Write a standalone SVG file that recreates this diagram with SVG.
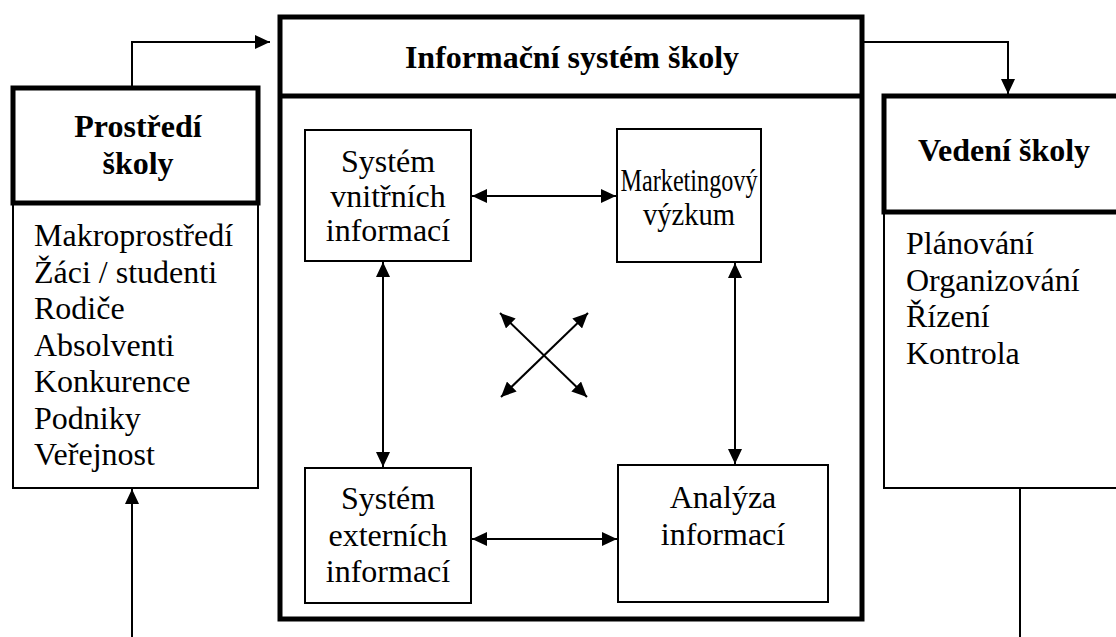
<svg xmlns="http://www.w3.org/2000/svg" width="1116" height="637" viewBox="0 0 1116 637">
<style>
.thick{fill:#fff;stroke:#000;stroke-width:5}
.thin{fill:#fff;stroke:#000;stroke-width:2}
.t{font-family:"Liberation Serif","Times New Roman",serif;font-size:32px;fill:#000}
.b{font-weight:bold}
.c{text-anchor:middle}
.ln{stroke:#000;stroke-width:2;fill:none}
</style>
<defs>
<marker id="ah" markerUnits="userSpaceOnUse" markerWidth="16" markerHeight="14" refX="15" refY="7" orient="auto-start-reverse" viewBox="0 0 16 14">
<path d="M0,0 L15,7 L0,14 z" fill="#000"/>
</marker>
</defs>
<rect width="1116" height="637" fill="#fff"/>

<g id="prostredi">
<rect class="thin" x="13" y="203" width="245" height="285"/>
<rect class="thick" x="13" y="88" width="245" height="115"/>
<text class="t b c" x="138" y="137">Prostředí</text>
<text class="t b c" x="138" y="174">školy</text>
<text class="t" x="34" y="246">Makroprostředí</text>
<text class="t" x="34" y="282.5">Žáci / studenti</text>
<text class="t" x="34" y="319">Rodiče</text>
<text class="t" x="34" y="355.5">Absolventi</text>
<text class="t" x="34" y="392">Konkurence</text>
<text class="t" x="34" y="428.5">Podniky</text>
<text class="t" x="34" y="465">Veřejnost</text>
</g>

<g id="is">
<rect class="thick" x="280" y="17" width="582" height="602"/>
<line x1="280" y1="96" x2="862" y2="96" stroke="#000" stroke-width="5"/>
<text class="t b c" x="572" y="68">Informační systém školy</text>
</g>

<g id="vnitrni">
<rect class="thin" x="305" y="130" width="166" height="131"/>
<text class="t c" x="388" y="172">Systém</text>
<text class="t c" x="388" y="207">vnitřních</text>
<text class="t c" x="388" y="241">informací</text>
</g>

<g id="marketing">
<rect class="thin" x="617" y="129" width="144" height="133"/>
<text class="t c" x="689" y="191" textLength="137" lengthAdjust="spacingAndGlyphs">Marketingový</text>
<text class="t c" x="689" y="225" textLength="92" lengthAdjust="spacingAndGlyphs">výzkum</text>
</g>

<g id="externi">
<rect class="thin" x="305" y="468" width="166" height="135"/>
<text class="t c" x="388" y="509">Systém</text>
<text class="t c" x="388" y="546">externích</text>
<text class="t c" x="388" y="582">informací</text>
</g>

<g id="analyza">
<rect class="thin" x="618" y="465" width="210" height="137"/>
<text class="t c" x="723" y="508">Analýza</text>
<text class="t c" x="723" y="545">informací</text>
</g>

<g id="vedeni">
<rect class="thin" x="884" y="212" width="240" height="276"/>
<rect class="thick" x="884" y="96" width="240" height="116"/>
<text class="t b c" x="1004" y="161">Vedení školy</text>
<text class="t" x="906" y="254">Plánování</text>
<text class="t" x="906" y="290.5">Organizování</text>
<text class="t" x="906" y="327">Řízení</text>
<text class="t" x="906" y="363.5">Kontrola</text>
</g>

<g id="connectors">
<polyline class="ln" points="132,88 132,42 270,42" marker-end="url(#ah)"/>
<polyline class="ln" points="862,42 1008,42 1008,94" marker-end="url(#ah)"/>
<line class="ln" x1="132" y1="637" x2="132" y2="489" marker-end="url(#ah)"/>
<line class="ln" x1="1020" y1="488" x2="1020" y2="637"/>
<line class="ln" x1="472" y1="196" x2="616" y2="196" marker-start="url(#ah)" marker-end="url(#ah)"/>
<line class="ln" x1="472" y1="539" x2="617" y2="539" marker-start="url(#ah)" marker-end="url(#ah)"/>
<line class="ln" x1="383" y1="262" x2="383" y2="467" marker-start="url(#ah)" marker-end="url(#ah)"/>
<line class="ln" x1="735" y1="263" x2="735" y2="464" marker-start="url(#ah)" marker-end="url(#ah)"/>
<line class="ln" x1="500" y1="313" x2="587" y2="397" marker-start="url(#ah)" marker-end="url(#ah)"/>
<line class="ln" x1="588" y1="313" x2="501" y2="397" marker-start="url(#ah)" marker-end="url(#ah)"/>
</g>
</svg>
